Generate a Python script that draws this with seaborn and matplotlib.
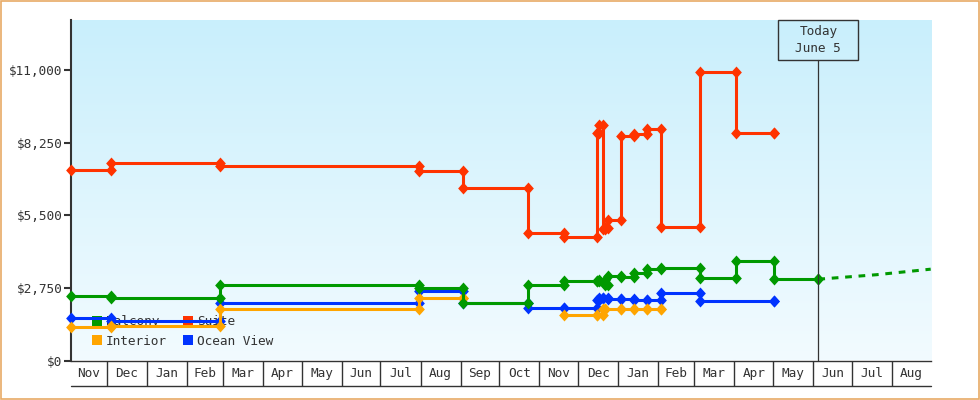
import matplotlib
matplotlib.use("Agg")
import matplotlib.pyplot as plt
import matplotlib.dates as mdates
import matplotlib.ticker as mticker
from matplotlib.patches import Rectangle, Patch
from matplotlib.transforms import ScaledTranslation, blended_transform_factory
import numpy as np
import pandas as pd
import seaborn as sns

# %% data
rooms = ["Balcony", "Suite", "Interior", "Ocean View"]
room_colors = ["#009900", "#ff3300", "#ffa500", "#0033ff"]

balcony_dates = ["2021-11-03", "2021-12-04", "2022-02-27", "2022-07-31", "2022-09-03",
                 "2022-10-23", "2022-11-20", "2022-12-16", "2022-12-17", "2022-12-22",
                 "2022-12-24", "2023-01-03", "2023-01-13", "2023-01-23", "2023-02-03",
                 "2023-03-05", "2023-04-02", "2023-05-02", "2023-06-05"]
balcony_prices = [2450, 2370, 2860, 2740, 2170,
                  2860, 3000, 3020, 3040, 2860,
                  3215, 3180, 3310, 3460, 3510,
                  3120, 3770, 3080, 3080]

suite_dates = ["2021-11-03", "2021-12-04", "2022-02-27", "2022-07-31", "2022-09-03",
               "2022-10-23", "2022-11-20", "2022-12-16", "2022-12-17", "2022-12-20",
               "2022-12-22", "2022-12-24", "2023-01-03", "2023-01-13", "2023-01-23",
               "2023-02-03", "2023-03-05", "2023-04-02", "2023-05-02"]
suite_prices = [7200, 7480, 7350, 7170, 6530,
                4820, 4660, 8610, 8930, 4980,
                5010, 5330, 8520, 8590, 8770,
                5050, 10930, 8600, 8600]

# None = no listing for that stretch (line breaks)
interior_dates = ["2021-11-03", "2021-12-04", "2022-02-27", "2022-07-31", "2022-09-03",
                  "2022-10-23", "2022-11-20", "2022-12-16", "2022-12-20", "2022-12-22",
                  "2023-01-03", "2023-01-13", "2023-01-23", "2023-02-03"]
interior_prices = [1280, 1320, 1940, 2350, 2350,
                   None, 1730, 1730, 1960, 1960,
                   1950, 1950, 1950, 1950]

oceanview_dates = ["2021-11-03", "2021-12-04", "2022-02-27", "2022-07-31", "2022-09-03",
                   "2022-10-23", "2022-11-20", "2022-12-16", "2022-12-17", "2022-12-20",
                   "2022-12-24", "2023-01-03", "2023-01-13", "2023-01-23", "2023-02-03",
                   "2023-03-05", "2023-05-02"]
oceanview_prices = [1620, 1510, 2170, 2630, 2190,
                    1980, 1980, 2300, 2360, 2360,
                    2330, 2330, 2300, 2300, 2570,
                    2270, 2270]

projection_dates = ["2023-06-05", "2023-07-20", "2023-08-31"]
projection_prices = [3080, 3250, 3460]

today = "2023-06-05"
today_label = "Today\nJune 5"
x_start, x_end = "2021-11-03", "2023-08-31"
y_ticks = [0, 2750, 5500, 8250, 11000]
y_max = 12900


def step_rows(room, dates, prices):
    # price holds until the next observation -> two vertices per change
    rows, seg, prev = [], 0, None
    for d, p in zip(dates, prices):
        if p is None:
            seg += 1
            prev = None
            continue
        if prev is not None:
            rows.append((room, f"{room}-{seg}", d, prev))
        rows.append((room, f"{room}-{seg}", d, p))
        prev = p
    return rows


rows = []
rows += step_rows("Ocean View", oceanview_dates, oceanview_prices)
rows += step_rows("Interior", interior_dates, interior_prices)
rows += step_rows("Balcony", balcony_dates, balcony_prices)
rows += step_rows("Suite", suite_dates, suite_prices)
df = pd.DataFrame(rows, columns=["room", "seg", "date", "price"])
df["date"] = pd.to_datetime(df["date"])

palette = dict(zip(rooms, room_colors))
ink = "#333333"
font = "DejaVu Sans Mono"
fs = 9.2

# %% figure
sns.set_style("white")
plt.rcParams["font.family"] = [font]
fig = plt.figure(figsize=(9.8, 4.0), dpi=100)
ax = fig.add_axes([70.5 / 980, 1 - 360.5 / 400, 860.2 / 980, 340.5 / 400])

# background gradient
grad = np.linspace(0, 1, 256)[:, None]
cmap = matplotlib.colors.LinearSegmentedColormap.from_list("bg", ["#c9effc", "#f2fbff"])
ax.imshow(grad, extent=[0, 1, 0, 1], transform=ax.transAxes, aspect="auto",
          cmap=cmap, zorder=0, interpolation="bilinear")

diamond = [(0, 1), (0.9, 0), (0, -1), (-0.9, 0), (0, 1)]
sns.lineplot(data=df, x="date", y="price", hue="room", units="seg", estimator=None,
             sort=False, palette=palette, legend=False, ax=ax,
             marker=diamond, markersize=8.6, markeredgewidth=0, linewidth=2.2,
             zorder=3, clip_on=False)

proj = pd.DataFrame({"date": pd.to_datetime(projection_dates), "price": projection_prices})
sns.lineplot(data=proj, x="date", y="price", ax=ax, color=palette["Balcony"],
             linewidth=2.2, dashes=False, zorder=3, clip_on=False,
             linestyle=(0, (2.2, 2.2)))

ax.set_xlim(pd.Timestamp(x_start), pd.Timestamp(x_end))
ax.set_ylim(0, y_max)

# today marker
t = pd.Timestamp(today)
box_bottom = 1 - 40.3 / 340.5
ax.axvline(t, ymin=0, ymax=box_bottom, color=ink, lw=0.9, zorder=4)
blend = blended_transform_factory(ax.transData, ax.transAxes)
x0 = mdates.date2num(t - pd.Timedelta(days=31))
x1 = mdates.date2num(t + pd.Timedelta(days=31))
ax.add_patch(Rectangle((x0, box_bottom), x1 - x0, 1 - box_bottom, transform=blend,
                       fill=False, ec=ink, lw=1, zorder=4, clip_on=False))
ax.text(t, (1 + box_bottom) / 2, today_label, transform=blend, ha="center", va="center",
        fontsize=fs, color=ink, linespacing=1.45, zorder=5)

# y axis
ax.set_yticks(y_ticks)
ax.yaxis.set_major_formatter(mticker.FuncFormatter(lambda v, p: f"${v:,.0f}"))
ax.tick_params(axis="y", length=5, width=1.5, color=ink, labelcolor=ink,
               labelsize=fs, pad=1, left=True)

# x axis: month boxes
ax.xaxis.set_major_locator(mdates.MonthLocator())
ax.xaxis.set_major_formatter(mticker.NullFormatter())
lo, hi = pd.Timestamp(x_start), pd.Timestamp(x_end)
months = pd.date_range(lo.to_period("M").to_timestamp(), hi, freq="MS")
centers = []
for m in months:
    a = max(m, lo)
    b = min(m + pd.offsets.MonthBegin(1), hi)
    centers.append(mdates.date2num(a) + (mdates.date2num(b) - mdates.date2num(a)) / 2)
ax.xaxis.set_minor_locator(mticker.FixedLocator(centers))
ax.xaxis.set_minor_formatter(
    mticker.FuncFormatter(lambda v, p: mdates.num2date(v).strftime("%b")))
ax.tick_params(axis="x", which="major", length=18, width=1, color=ink,
               direction="out", bottom=True)
ax.tick_params(axis="x", which="minor", length=0, labelsize=fs, labelcolor=ink, pad=4.5)
drop = ax.transAxes + ScaledTranslation(0, -25 / 100, fig.dpi_scale_trans)
ax.plot([0, 1], [0, 0], transform=drop, color=ink, lw=1, clip_on=False)

ax.set_xlabel("")
ax.set_ylabel("")
for side in ["top", "right"]:
    ax.spines[side].set_visible(False)
ax.spines["left"].set_color(ink)
ax.spines["left"].set_linewidth(1.5)
ax.spines["bottom"].set_color(ink)
ax.spines["bottom"].set_linewidth(1)

# legend sits under the lines
order = ["Balcony", "Interior", "Suite", "Ocean View"]
handles = [Patch(facecolor=palette[r], edgecolor="none", label=r) for r in order]
leg = ax.legend(handles=handles, ncol=2, loc="lower left", bbox_to_anchor=(0.025, 0.038),
                frameon=False, fontsize=fs, handlelength=0.8, handleheight=0.8,
                handletextpad=0.3, columnspacing=1.25, labelspacing=0.5,
                borderpad=0, borderaxespad=0)
for txt in leg.get_texts():
    txt.set_color(ink)
leg.set_zorder(1)

# outer border
fig.patches.append(Rectangle((0.001, 0.002), 0.998, 0.996, transform=fig.transFigure,
                             fill=False, ec="#e8aa66", lw=1.2))

fig.savefig("out.png", dpi=100)
